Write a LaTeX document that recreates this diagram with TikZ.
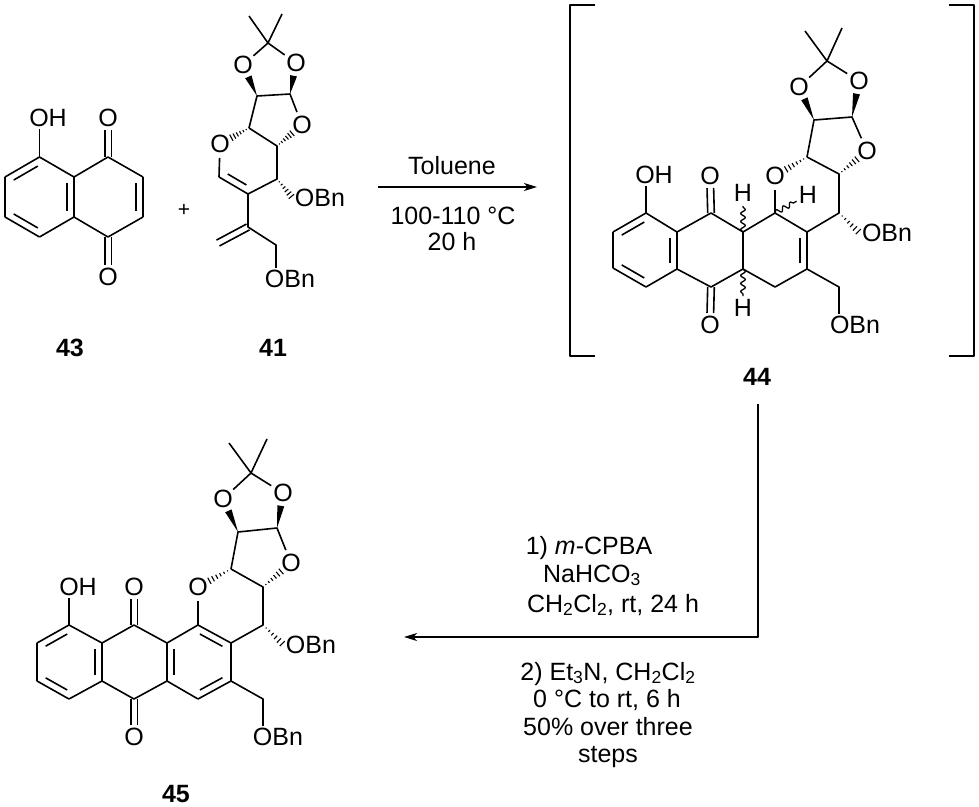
\documentclass[tikz,border=0pt]{standalone}
\usepackage{fontspec}
\setmainfont{Liberation Sans}
\usetikzlibrary{arrows.meta, calc, decorations.pathmorphing}

% wedge: narrow end at #1, wide end #3 pt before #2
\newcommand{\wedgebond}[3]{%
	\coordinate (wend) at ($(#2)!#3pt!(#1)$);
	\fill (#1) -- ($(wend)!3.5pt!90:(#1)$) -- ($(wend)!3.5pt!-90:(#1)$) -- cycle;
}
% hashed wedge
\newcommand{\hashbond}[3]{%
	\coordinate (hend) at ($(#2)!#3pt!(#1)$);
	\foreach \f in {0.16,0.32,0.49,0.66,0.83,1}{
		\coordinate (hmid) at ($(#1)!\f!(hend)$);
		\draw[line width=1.1pt] ($(hmid)!\f*3.5pt!90:(#1)$) -- ($(hmid)!\f*3.5pt!-90:(#1)$);
	}
}
% wavy bond
\newcommand{\wavybond}[3]{%
	\coordinate (vend) at ($(#2)!#3pt!(#1)$);
	\draw[line width=1.3pt, decorate, decoration={snake, amplitude=2.4pt, segment length=8pt}] (#1) -- (vend);
}
% inner line of a ring double bond, #3 is the side (90 or -90)
\newcommand{\ringbond}[3]{%
	\draw (#1) -- (#2);
	\draw[shorten <=6pt, shorten >=6pt] ($(#1)!7pt!#3:(#2)$) -- ($(#2)!7pt!-#3:(#1)$);
}
% two lines side by side, stopping #3 pt before #2
\newcommand{\twobond}[3]{%
	\draw[shorten >=#3pt] ($(#1)!3.3pt!90:(#2)$) -- ($(#2)!3.3pt!-90:(#1)$);
	\draw[shorten >=#3pt] ($(#1)!3.3pt!-90:(#2)$) -- ($(#2)!3.3pt!90:(#1)$);
}

\tikzset{
	atom/.style={circle, inner sep=0pt, font=\fontsize{25}{29}\selectfont},
	group/.style={inner sep=1.5pt, font=\fontsize{25}{29}\selectfont},
	cond/.style={anchor=base, inner sep=0pt, font=\fontsize{25}{29}\selectfont},
	molnum/.style={inner sep=0pt, font=\fontsize{25}{29}\selectfont\bfseries},
	arrowline/.style={line width=1.3pt, -{Stealth[length=13pt, width=8pt, inset=3.5pt]}},
}

\begin{document}
\begin{tikzpicture}[x=1pt, y=-1pt, line width=1.6pt, line join=round]
	\useasboundingbox (0, 0) rectangle (979, 806);
	
	% naphthoquinone 43
	\coordinate (a2) at (39.5, 157);
	\coordinate (a3) at (74, 177);
	\coordinate (a4) at (74, 217);
	\coordinate (a5) at (39.5, 237);
	\coordinate (a6) at (5, 217);
	\coordinate (a7) at (5, 177);
	\coordinate (a8) at (108, 157);
	\coordinate (a9) at (143, 177);
	\coordinate (a10) at (143, 217);
	\coordinate (a11) at (108, 237);
	\node[group] (aoh) at (48, 118) {OH};
	\node[atom] (ao1) at (108, 118) {O};
	\node[atom] (ao2) at (108, 277) {O};
	\ringbond{a7}{a2}{-90}
	\ringbond{a3}{a4}{-90}
	\ringbond{a5}{a6}{-90}
	\ringbond{a9}{a10}{-90}
	\draw (a2) -- (a3) (a4) -- (a5) (a6) -- (a7);
	\draw (a3) -- (a8) -- (a9) (a10) -- (a11) -- (a4);
	\draw (a2) -- (a2 |- aoh.south);
	\twobond{a8}{ao1}{12}
	\twobond{a11}{ao2}{12}
	
	% plus sign
	\node[inner sep=0pt, font=\fontsize{21}{24}\selectfont] (plus) at (184, 210) {+};
	
	% glycal 41
	\coordinate (bme1) at (249, 16);
	\coordinate (bme2) at (282, 14);
	\coordinate (bc) at (268, 43);
	\coordinate (ba) at (257, 96);
	\coordinate (bb) at (290, 94);
	\coordinate (bd) at (249, 128);
	\coordinate (be) at (277, 146);
	\coordinate (bf) at (277, 179);
	\coordinate (bg) at (248, 194);
	\coordinate (bh) at (219, 177);
	\coordinate (bi) at (248, 227);
	\coordinate (bj) at (218, 243);
	\coordinate (bk) at (276, 245);
	\node[atom] (bo1) at (243, 65) {O};
	\node[atom] (bo2) at (296, 63) {O};
	\node[atom] (bo3) at (302, 125) {O};
	\node[atom] (bo4) at (220, 144) {O};
	\node[group] (bobn1) at (320, 198) {OBn};
	\node[group] (bobn2) at (290, 279) {OBn};
	\draw (bme1) -- (bc) -- (bme2);
	\draw (bo1) -- (bc) -- (bo2);
	\wedgebond{ba}{bo1}{13}
	\wedgebond{bb}{bo2}{13}
	\draw (bd) -- (ba) -- (bb) -- (bo3);
	\draw (bd) -- (be) -- (bf) -- (bg);
	\hashbond{be}{bo3}{13}
	\hashbond{bd}{bo4}{13}
	\draw (bo4) -- (bh);
	\ringbond{bh}{bg}{90}
	\hashbond{bf}{bobn1.west}{2}
	\draw (bg) -- (bi) -- (bk) -- (bk |- bobn2.north);
	\twobond{bi}{bj}{0}
	
	% reaction arrow, Toluene
	\coordinate (arr1a) at (378, 187);
	\coordinate (arr1b) at (537, 187);
	\draw[arrowline] (arr1a) -- (arr1b);
	\node[cond] (tol) at (452, 174) {Toluene};
	\node[cond] (temp1) at (453, 224) {100-110 °C};
	\node[cond] (time1) at (452, 250) {20 h};
	
	% brackets
	\coordinate (bl1) at (595, 5);
	\coordinate (bl2) at (570, 5);
	\coordinate (bl3) at (570, 356);
	\coordinate (bl4) at (595, 356);
	\coordinate (br1) at (949, 5);
	\coordinate (br2) at (974, 5);
	\coordinate (br3) at (974, 356);
	\coordinate (br4) at (949, 356);
	\draw[line width=1.3pt] (bl1) -- (bl2) -- (bl3) -- (bl4);
	\draw[line width=1.3pt] (br1) -- (br2) -- (br3) -- (br4);
	
	% cycloadduct 44
	\coordinate (cme1) at (805, 31);
	\coordinate (cme2) at (842, 28);
	\coordinate (cc) at (827, 61);
	\coordinate (ca) at (814, 120);
	\coordinate (cb) at (852, 117);
	\coordinate (cd) at (807, 157);
	\coordinate (ce) at (839, 174);
	\coordinate (cf) at (839, 213);
	\coordinate (cg) at (807, 232);
	\coordinate (ch) at (807, 269);
	\coordinate (ci) at (775, 287);
	\coordinate (cj) at (743, 269);
	\coordinate (ck) at (743, 232);
	\coordinate (cl) at (775, 213);
	\coordinate (cm) at (711, 213);
	\coordinate (cn) at (677, 232);
	\coordinate (cp) at (677, 269);
	\coordinate (cq) at (711, 287);
	\coordinate (cr) at (646, 213);
	\coordinate (cs) at (613, 232);
	\coordinate (ct) at (613, 268);
	\coordinate (cu) at (646, 287);
	\coordinate (cv) at (839, 287);
	\node[atom] (co1) at (799, 87) {O};
	\node[atom] (co2) at (859, 81) {O};
	\node[atom] (co3) at (867, 151) {O};
	\node[atom] (co4) at (775, 176) {O};
	\node[atom] (co5) at (710, 176) {O};
	\node[atom] (co6) at (710, 325) {O};
	\node[group] (coh) at (654, 175) {OH};
	\node[group] (cobn1) at (887, 233) {OBn};
	\node[group] (cobn2) at (855, 325) {OBn};
	\node[atom] (ch1) at (743, 193) {H};
	\node[atom] (ch2) at (808, 195) {H};
	\node[atom] (ch3) at (743, 308) {H};
	\draw (cme1) -- (cc) -- (cme2);
	\draw (co1) -- (cc) -- (co2);
	\wedgebond{ca}{co1}{13}
	\wedgebond{cb}{co2}{13}
	\draw (cd) -- (ca) -- (cb) -- (co3);
	\draw (cd) -- (ce) -- (cf) -- (cg);
	\hashbond{ce}{co3}{13}
	\hashbond{cd}{co4}{13}
	\hashbond{cf}{cobn1.west}{2}
	\draw (co4) -- (cl);
	\ringbond{cg}{ch}{-90}
	\draw (cg) -- (cl) -- (ck) -- (cj) -- (ci) -- (ch);
	\draw (ch) -- (cv) -- (cv |- cobn2.north);
	\wavybond{ck}{ch1}{13}
	\wavybond{cl}{ch2}{13}
	\wavybond{cj}{ch3}{12}
	\draw (ck) -- (cm) -- (cn) (cp) -- (cq) -- (cj);
	\twobond{cm}{co5}{12}
	\twobond{cq}{co6}{12}
	\ringbond{cs}{cr}{-90}
	\ringbond{cn}{cp}{-90}
	\ringbond{cu}{ct}{-90}
	\draw (cr) -- (cn) (cp) -- (cu) (ct) -- (cs);
	\draw (cr) -- (cr |- coh.south);
	\node[molnum] (n44) at (757, 377) {44};
	
	% arrow from 44 to 45, both steps
	\coordinate (arr2a) at (758, 404);
	\coordinate (arr2b) at (758, 637);
	\coordinate (arr2c) at (404, 637);
	\draw[arrowline] (arr2a) -- (arr2b) -- (arr2c);
	\node[cond] (st1) at (589, 554) {1) \textit{m}-CPBA};
	\node[cond] (st2) at (592, 582) {NaHCO\textsubscript{3}};
	\node[cond] (st3) at (613, 612) {CH\textsubscript{2}Cl\textsubscript{2}, rt, 24 h};
	\node[cond] (st4) at (608, 680) {2) Et\textsubscript{3}N, CH\textsubscript{2}Cl\textsubscript{2}};
	\node[cond] (st5) at (607, 707) {0 °C to rt, 6 h};
	\node[cond] (st6) at (608, 735) {50\% over three};
	\node[cond] (st7) at (608, 762) {steps};
	
	% anthraquinone 45
	\coordinate (dme1) at (229, 443);
	\coordinate (dme2) at (267, 439);
	\coordinate (dc) at (251, 473);
	\coordinate (da) at (238, 532);
	\coordinate (db) at (277, 528);
	\coordinate (dd) at (231, 569);
	\coordinate (de) at (263, 587);
	\coordinate (df) at (263, 625);
	\coordinate (dg) at (231, 643);
	\coordinate (dh) at (231, 681);
	\coordinate (di) at (198, 699);
	\coordinate (dj) at (167, 681);
	\coordinate (dk) at (167, 643);
	\coordinate (dl) at (198, 625);
	\coordinate (dm) at (134, 625);
	\coordinate (dn) at (102, 643);
	\coordinate (dp) at (102, 681);
	\coordinate (dq) at (134, 699);
	\coordinate (dr) at (69, 625);
	\coordinate (ds) at (37, 643);
	\coordinate (dt) at (37, 681);
	\coordinate (du) at (69, 699);
	\coordinate (dv) at (263, 699);
	\node[atom] (do1) at (223, 499) {O};
	\node[atom] (do2) at (283, 493) {O};
	\node[atom] (do3) at (291, 563) {O};
	\node[atom] (do4) at (198, 587) {O};
	\node[atom] (do5) at (134, 587) {O};
	\node[atom] (do6) at (134, 737) {O};
	\node[group] (doh) at (78, 587) {OH};
	\node[group] (dobn1) at (311, 645) {OBn};
	\node[group] (dobn2) at (278, 737) {OBn};
	\draw (dme1) -- (dc) -- (dme2);
	\draw (do1) -- (dc) -- (do2);
	\wedgebond{da}{do1}{13}
	\wedgebond{db}{do2}{13}
	\draw (dd) -- (da) -- (db) -- (do3);
	\draw (dd) -- (de) -- (df) -- (dg);
	\hashbond{de}{do3}{13}
	\hashbond{dd}{do4}{13}
	\hashbond{df}{dobn1.west}{2}
	\draw (do4) -- (dl);
	\ringbond{dl}{dg}{-90}
	\ringbond{dh}{di}{-90}
	\ringbond{dj}{dk}{-90}
	\draw (dk) -- (dl) (dg) -- (dh) (di) -- (dj);
	\draw (dh) -- (dv) -- (dv |- dobn2.north);
	\draw (dk) -- (dm) -- (dn) (dp) -- (dq) -- (dj);
	\twobond{dm}{do5}{12}
	\twobond{dq}{do6}{12}
	\ringbond{ds}{dr}{-90}
	\ringbond{dn}{dp}{-90}
	\ringbond{du}{dt}{-90}
	\draw (dr) -- (dn) (dp) -- (du) (dt) -- (ds);
	\draw (dr) -- (dr |- doh.south);
	
	% compound numbers
	\node[molnum] (n43) at (70, 348) {43};
	\node[molnum] (n41) at (273, 348) {41};
	\node[molnum] (n45) at (176, 794) {45};
	
\end{tikzpicture}
\end{document}
